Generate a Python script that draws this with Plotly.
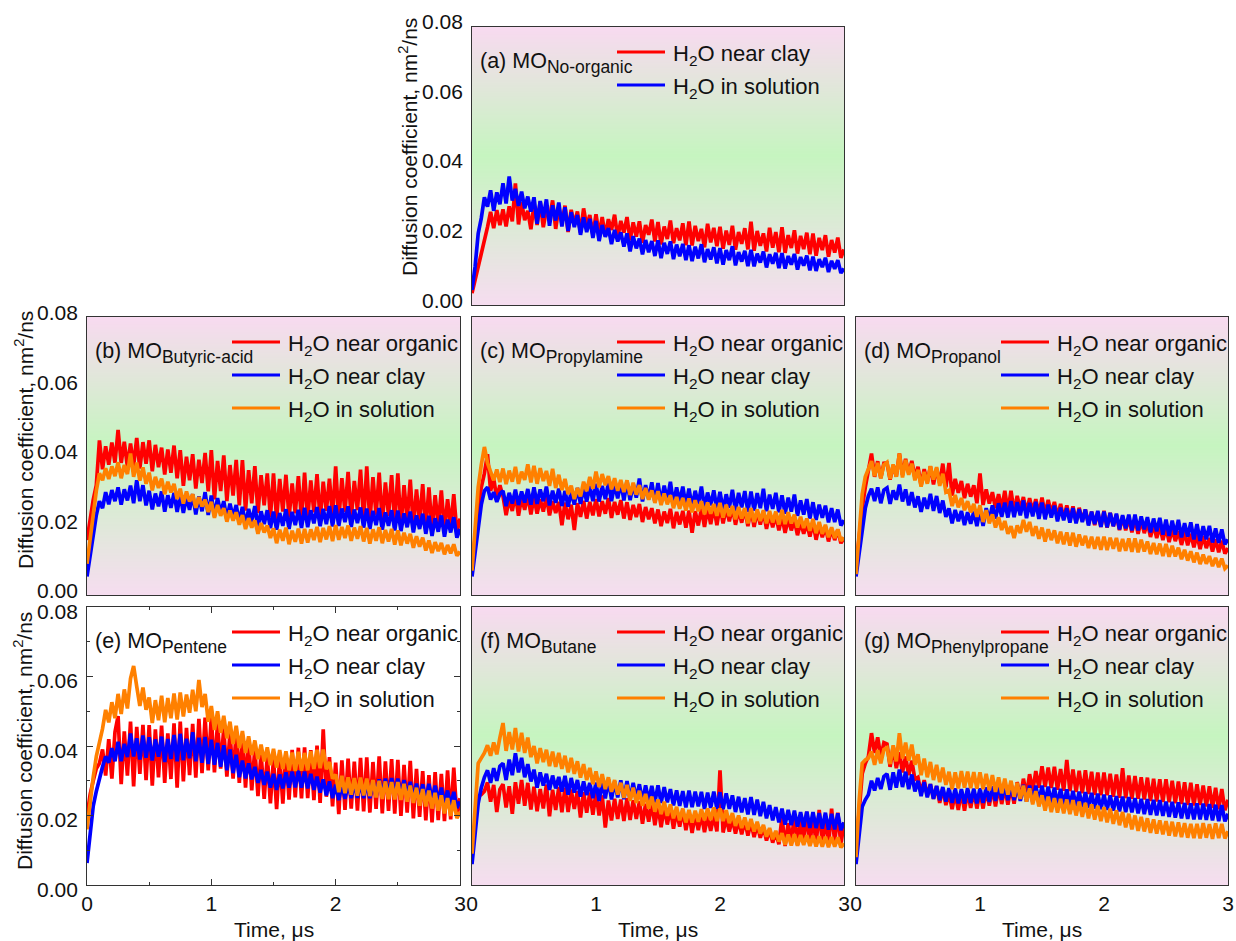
import numpy as np
import plotly.graph_objects as go

# Sampling times (microseconds): 0 ... 3 us in steps of 0.025 us
time_us = np.round(np.arange(121) * 0.025, 3)

# Water diffusion coefficients, in units of 1e-3 nm^2/ns, one value per time sample
a_near_clay = [
    3.4, 7.0, 11.2, 15.1, 18.6, 22.4, 26.8, 22.1, 27.3, 23.0,
    27.5, 22.6, 28.4, 24.1, 35.0, 23.2, 29.6, 24.4, 27.1, 21.8,
    28.9, 23.0, 29.7, 22.4, 27.6, 24.8, 30.1, 21.9, 28.2, 23.5,
    28.6, 21.0, 27.4, 23.2, 26.9, 20.7, 27.8, 22.6, 25.9, 20.2,
    26.1, 20.3, 25.3, 19.8, 24.7, 21.6, 26.0, 19.4, 24.2, 20.8,
    25.3, 18.6, 23.8, 19.7, 24.1, 17.9, 23.0, 20.2, 24.6, 18.3,
    23.9, 17.4, 22.6, 19.0, 24.3, 17.8, 22.1, 18.6, 23.5, 17.2,
    24.0, 17.1, 22.8, 18.4, 21.9, 16.6, 23.4, 18.0, 22.2, 16.9,
    22.5, 16.2, 21.4, 17.3, 22.8, 15.9, 21.0, 17.6, 22.1, 16.0,
    24.0, 15.6, 21.3, 17.0, 20.6, 15.4, 22.2, 16.5, 21.0, 15.2,
    22.4, 15.0, 20.1, 16.4, 21.5, 14.8, 19.9, 16.1, 20.8, 14.6,
    20.6, 14.2, 19.3, 15.8, 20.1, 13.9, 18.7, 15.1, 19.4, 13.6,
    16.0]
a_in_solution = [
    4.3, 11.0, 20.6, 25.0, 31.0, 28.3, 33.0, 27.1, 32.4, 29.0,
    35.0, 29.2, 37.0, 30.1, 33.4, 28.5, 32.6, 27.8, 31.2, 26.9,
    31.0, 23.4, 29.9, 25.1, 30.4, 22.8, 28.7, 24.3, 29.5, 22.6,
    28.1, 21.3, 26.7, 22.4, 25.9, 20.2, 25.2, 21.0, 24.8, 19.3,
    24.2, 18.4, 23.0, 19.6, 22.1, 17.5, 21.6, 18.3, 20.9, 16.8,
    20.6, 15.4, 19.8, 16.3, 19.1, 14.6, 18.7, 15.2, 18.4, 14.1,
    18.6, 13.5, 17.9, 14.7, 18.3, 13.2, 17.4, 14.0, 17.6, 12.9,
    17.2, 12.6, 16.8, 13.4, 17.5, 12.3, 16.1, 13.1, 16.6, 12.0,
    16.4, 11.6, 15.8, 12.9, 16.9, 11.4, 15.2, 12.5, 15.6, 11.2,
    15.9, 11.1, 14.8, 12.2, 15.4, 10.8, 14.6, 11.9, 15.0, 10.6,
    14.9, 10.5, 14.1, 11.6, 14.7, 10.2, 13.8, 11.3, 14.2, 10.0,
    13.9, 9.8, 13.2, 10.9, 13.6, 9.5, 12.7, 10.4, 12.9, 9.2,
    10.5]

b_near_organic = [
    15.8, 22.0, 27.4, 31.6, 44.5, 36.2, 42.8, 37.5, 43.9, 38.1,
    47.5, 38.0, 44.1, 36.9, 43.6, 37.2, 45.2, 36.4, 44.0, 37.8,
    44.5, 35.6, 43.2, 36.8, 42.4, 34.7, 41.9, 35.2, 43.0, 33.6,
    41.7, 31.4, 39.8, 33.0, 40.5, 30.6, 38.9, 32.2, 40.9, 29.8,
    41.7, 27.5, 38.6, 29.9, 40.2, 27.0, 37.4, 28.6, 38.9, 25.8,
    38.8, 24.3, 35.9, 26.4, 37.1, 23.6, 34.5, 25.8, 35.0, 22.4,
    35.0, 21.8, 33.4, 24.0, 34.6, 22.3, 32.1, 23.5, 34.2, 21.6,
    35.2, 22.0, 33.0, 23.8, 34.8, 21.5, 32.6, 24.2, 33.5, 22.4,
    37.0, 21.6, 33.6, 23.9, 35.4, 22.0, 32.8, 24.4, 36.1, 21.3,
    37.0, 21.0, 33.9, 23.1, 35.2, 20.7, 32.4, 22.8, 34.5, 20.4,
    35.0, 19.8, 31.6, 21.6, 33.2, 19.5, 30.4, 21.0, 31.9, 19.0,
    31.0, 18.8, 28.7, 20.2, 30.1, 18.3, 27.6, 19.6, 29.0, 17.9,
    22.0]
b_near_clay = [
    5.3, 11.5, 17.7, 23.0, 27.0, 25.0, 29.6, 26.1, 30.2, 27.0,
    31.0, 26.0, 30.4, 27.2, 31.5, 26.4, 33.0, 27.0, 31.6, 25.8,
    30.0, 24.6, 29.2, 25.5, 29.8, 24.0, 28.7, 25.1, 29.4, 23.9,
    28.8, 23.6, 28.1, 24.5, 29.0, 23.2, 28.4, 24.1, 29.6, 23.0,
    28.6, 22.7, 27.9, 23.6, 27.0, 21.8, 26.3, 22.4, 25.9, 20.9,
    25.4, 20.1, 24.8, 21.0, 25.6, 19.6, 24.1, 20.4, 24.4, 19.2,
    24.0, 18.8, 23.6, 19.9, 24.7, 19.0, 23.9, 20.1, 24.5, 19.3,
    25.1, 19.5, 24.4, 20.6, 25.3, 19.8, 24.8, 20.4, 25.6, 19.7,
    25.8, 19.9, 24.9, 21.0, 25.5, 19.6, 24.6, 20.7, 25.2, 19.4,
    24.9, 19.0, 24.2, 20.1, 25.0, 18.8, 23.8, 19.9, 24.4, 18.6,
    24.3, 18.4, 23.5, 19.5, 24.0, 18.0, 22.9, 19.0, 23.4, 17.6,
    22.8, 17.0, 22.1, 18.2, 22.9, 16.8, 21.7, 18.0, 22.4, 16.5,
    19.0]
b_in_solution = [
    9.0, 16.0, 23.5, 30.0, 35.0, 33.0, 36.5, 33.4, 37.0, 34.2,
    38.2, 33.6, 37.4, 34.8, 40.7, 34.0, 38.1, 32.9, 36.7, 32.0,
    35.2, 30.1, 34.0, 30.8, 33.5, 29.0, 32.6, 29.5, 32.0, 27.6,
    30.6, 26.3, 29.8, 26.9, 29.0, 25.1, 28.2, 25.5, 27.4, 23.9,
    26.8, 22.2, 25.9, 22.8, 25.0, 21.1, 24.3, 21.4, 23.8, 20.2,
    23.0, 19.0, 22.1, 19.4, 21.5, 17.6, 20.7, 18.0, 20.0, 16.4,
    19.2, 14.9, 18.8, 15.6, 19.4, 14.6, 18.5, 15.3, 19.1, 14.8,
    19.0, 15.1, 18.9, 15.8, 19.6, 15.2, 19.3, 16.0, 19.8, 15.5,
    20.1, 15.9, 19.6, 16.4, 20.0, 15.6, 19.4, 16.2, 19.8, 15.4,
    19.3, 14.8, 18.9, 15.6, 19.5, 14.9, 18.7, 15.4, 19.0, 14.5,
    18.6, 14.3, 17.9, 14.8, 17.6, 13.6, 16.9, 13.9, 16.5, 12.8,
    15.7, 12.1, 15.2, 12.6, 15.0, 11.7, 14.4, 12.0, 14.6, 11.3,
    12.5]

c_near_organic = [
    8.0, 17.0, 25.0, 31.0, 35.0, 40.5, 30.0, 33.5, 27.8, 31.6,
    28.4, 23.0, 27.6, 24.2, 29.1, 22.8, 28.0, 24.5, 28.8, 23.2,
    28.1, 23.4, 27.5, 24.0, 28.4, 22.9, 27.0, 23.6, 26.8, 20.1,
    26.6, 21.8, 26.0, 18.7, 26.4, 22.5, 27.1, 22.0, 26.8, 22.9,
    27.6, 22.6, 27.0, 23.4, 27.9, 22.2, 26.8, 23.1, 27.3, 22.0,
    26.7, 21.6, 25.9, 22.4, 26.2, 21.0, 25.3, 21.8, 25.0, 20.6,
    24.6, 19.8, 24.0, 20.7, 24.8, 19.2, 23.9, 20.3, 24.2, 19.4,
    24.3, 17.9, 24.1, 20.0, 24.9, 19.6, 25.0, 20.4, 25.4, 20.1,
    25.6, 20.6, 25.0, 21.2, 25.4, 20.2, 24.6, 20.8, 24.9, 19.8,
    24.7, 19.6, 24.1, 20.3, 24.0, 19.0, 23.2, 19.5, 23.0, 18.6,
    22.6, 17.9, 22.0, 18.6, 21.5, 17.2, 21.0, 17.6, 20.6, 16.8,
    20.8, 15.9, 20.1, 16.6, 19.7, 15.4, 19.0, 15.8, 18.8, 14.9,
    16.5]
c_near_clay = [
    5.3, 12.0, 19.6, 26.0, 30.0, 31.0, 27.5, 29.6, 26.8, 29.1,
    30.0, 25.6, 29.4, 26.3, 30.3, 25.9, 29.8, 26.6, 30.5, 26.0,
    31.0, 26.2, 30.4, 27.0, 31.2, 25.8, 30.0, 26.5, 30.6, 25.6,
    30.0, 25.4, 29.7, 26.0, 30.8, 26.2, 30.9, 26.9, 31.4, 27.0,
    32.0, 26.9, 31.4, 27.6, 32.3, 27.0, 31.8, 27.8, 32.5, 27.2,
    32.8, 27.3, 31.9, 28.0, 33.5, 26.9, 31.6, 27.6, 32.4, 26.8,
    32.2, 26.5, 31.5, 27.4, 32.6, 26.2, 31.0, 26.9, 31.2, 25.8,
    30.6, 25.3, 30.0, 26.1, 31.2, 25.0, 29.5, 25.8, 30.1, 24.8,
    29.7, 24.4, 29.0, 25.1, 30.3, 24.2, 29.4, 25.2, 29.9, 24.0,
    29.8, 24.3, 29.3, 25.0, 30.6, 24.1, 28.9, 24.8, 29.4, 23.8,
    28.7, 23.4, 28.0, 24.0, 28.9, 22.8, 27.2, 23.1, 27.6, 22.0,
    26.7, 21.6, 26.0, 22.2, 25.7, 20.9, 25.0, 21.0, 24.6, 20.0,
    21.5]
c_in_solution = [
    7.0, 20.0, 31.0, 37.5, 42.6, 38.0, 35.2, 33.0, 36.1, 32.5,
    36.4, 31.9, 35.8, 32.6, 36.9, 32.0, 35.5, 33.1, 37.6, 32.4,
    37.2, 32.0, 36.5, 32.8, 35.7, 31.4, 36.3, 30.8, 34.6, 30.2,
    33.4, 29.0, 31.5, 27.6, 30.8, 28.4, 32.6, 29.9, 34.0, 30.6,
    35.5, 31.0, 34.8, 31.6, 34.2, 30.4, 33.6, 30.0, 33.1, 29.6,
    33.0, 28.8, 32.3, 28.9, 31.6, 27.6, 30.8, 27.4, 30.1, 26.5,
    29.9, 25.9, 29.2, 26.1, 28.7, 25.0, 28.2, 24.8, 27.9, 24.3,
    27.8, 23.8, 27.3, 24.1, 27.0, 23.2, 26.6, 23.4, 26.2, 22.8,
    26.5, 22.3, 26.0, 22.7, 25.6, 21.8, 25.3, 22.0, 25.0, 20.6,
    25.0, 21.0, 24.6, 21.3, 24.4, 20.6, 24.2, 20.9, 24.0, 20.3,
    24.5, 20.4, 23.8, 20.6, 23.1, 19.4, 22.5, 19.3, 22.0, 18.5,
    21.9, 17.8, 21.0, 17.6, 20.2, 16.6, 19.5, 16.4, 18.9, 15.6,
    16.5]

d_near_organic = [
    8.0, 17.0, 25.0, 31.0, 36.0, 40.7, 34.0, 38.5, 33.6, 37.9,
    38.0, 33.2, 37.4, 34.1, 40.7, 34.5, 39.2, 35.0, 38.6, 33.8,
    36.9, 31.5, 36.2, 32.4, 37.0, 31.8, 36.4, 32.1, 37.8, 31.0,
    38.0, 28.6, 33.4, 29.4, 32.8, 27.9, 32.0, 28.3, 31.6, 26.4,
    35.0, 25.9, 30.4, 26.3, 29.6, 25.0, 29.0, 24.7, 30.0, 24.1,
    30.0, 24.0, 28.5, 24.6, 28.2, 23.7, 27.9, 24.0, 27.6, 23.4,
    28.0, 23.2, 27.4, 23.5, 26.8, 22.4, 26.2, 22.0, 25.8, 21.6,
    25.5, 21.0, 25.1, 21.3, 24.6, 20.4, 24.0, 20.1, 23.8, 19.6,
    24.2, 19.4, 23.6, 19.8, 23.1, 18.7, 22.6, 18.6, 22.2, 18.0,
    22.0, 17.6, 21.5, 17.8, 20.8, 16.7, 20.3, 16.4, 19.8, 15.8,
    19.5, 15.2, 19.0, 15.5, 18.4, 14.4, 18.1, 14.3, 17.6, 13.7,
    17.4, 13.2, 17.0, 13.5, 16.4, 12.5, 16.0, 12.3, 15.6, 11.9,
    13.5]
d_near_clay = [
    5.3, 12.0, 19.6, 25.0, 28.5, 30.6, 27.0, 31.0, 26.4, 30.2,
    30.8, 26.2, 30.1, 27.4, 31.8, 26.9, 30.4, 25.8, 29.6, 25.2,
    28.4, 23.9, 28.0, 24.8, 29.1, 24.2, 28.5, 23.6, 27.2, 22.5,
    24.9, 20.6, 24.5, 21.2, 24.2, 20.1, 23.8, 20.5, 24.0, 19.8,
    24.6, 19.9, 25.0, 21.6, 25.8, 22.0, 26.4, 22.5, 26.6, 22.3,
    27.0, 22.4, 26.7, 22.9, 27.2, 22.1, 26.5, 22.6, 26.8, 21.9,
    26.6, 21.8, 26.0, 22.3, 25.7, 21.2, 25.1, 21.5, 25.0, 20.8,
    25.0, 20.6, 24.7, 21.0, 24.6, 20.0, 24.0, 20.4, 24.2, 19.6,
    24.0, 19.5, 23.6, 19.8, 23.4, 18.9, 23.0, 19.2, 23.1, 18.6,
    23.1, 18.6, 22.6, 18.9, 22.4, 18.0, 22.0, 18.3, 22.2, 17.4,
    21.7, 17.0, 21.4, 17.4, 21.6, 16.6, 20.7, 16.8, 20.9, 16.0,
    20.4, 15.6, 19.8, 16.0, 19.9, 15.1, 19.2, 15.0, 18.9, 14.6,
    16.0]
d_in_solution = [
    6.0, 18.0, 29.0, 34.0, 36.0, 38.5, 34.2, 38.0, 33.6, 37.5,
    38.2, 33.4, 37.6, 34.0, 40.7, 33.8, 38.9, 34.6, 37.8, 33.0,
    36.0, 31.2, 35.4, 32.0, 37.1, 33.2, 36.8, 31.4, 34.9, 29.6,
    30.1, 25.6, 28.8, 25.2, 27.9, 24.4, 27.0, 23.8, 26.2, 22.5,
    25.8, 21.0, 24.4, 20.6, 23.2, 19.4, 22.4, 18.7, 21.3, 17.6,
    19.8, 16.4, 20.0, 17.8, 21.6, 18.2, 21.0, 17.0, 19.8, 16.2,
    19.4, 15.4, 18.9, 15.8, 18.6, 14.9, 18.2, 14.6, 18.0, 14.2,
    17.9, 13.9, 17.4, 14.3, 17.0, 13.5, 16.8, 13.3, 16.7, 13.0,
    16.8, 12.9, 16.5, 13.3, 16.4, 12.6, 16.1, 12.7, 16.3, 12.4,
    16.3, 12.3, 15.9, 12.5, 15.4, 11.8, 15.0, 11.7, 14.8, 11.2,
    14.7, 11.0, 14.2, 11.1, 13.6, 10.3, 13.0, 9.9, 12.6, 9.4,
    12.2, 8.9, 11.6, 9.0, 11.2, 8.3, 10.7, 8.0, 10.5, 7.6,
    8.5]

e_near_organic = [
    19.8, 26.0, 30.0, 33.5, 35.0, 39.0, 31.5, 42.0, 30.6, 44.0,
    48.6, 29.0, 44.2, 31.5, 47.0, 28.4, 45.5, 32.0, 46.1, 30.2,
    46.0, 28.6, 44.8, 31.0, 45.9, 29.4, 43.6, 30.5, 46.5, 28.0,
    47.0, 29.8, 45.2, 31.6, 46.4, 30.9, 47.8, 32.2, 48.2, 33.0,
    48.6, 32.4, 46.7, 33.5, 45.1, 31.2, 44.0, 30.6, 44.3, 29.4,
    43.2, 28.0, 41.6, 27.2, 39.4, 25.6, 38.0, 24.8, 37.2, 23.5,
    36.3, 21.8, 36.9, 23.4, 38.0, 24.6, 38.9, 25.2, 39.5, 24.9,
    39.6, 25.0, 38.8, 24.4, 40.1, 23.6, 44.8, 25.4, 36.8, 22.6,
    35.2, 20.4, 35.9, 21.6, 36.4, 22.0, 35.5, 21.4, 36.6, 21.2,
    36.7, 20.8, 35.4, 21.9, 37.0, 20.6, 35.6, 21.3, 36.2, 20.5,
    36.0, 19.9, 34.6, 20.8, 35.7, 19.2, 33.4, 19.6, 32.8, 18.6,
    31.6, 18.0, 32.5, 18.7, 32.0, 18.4, 33.0, 18.9, 33.8, 19.6,
    25.0]
e_near_clay = [
    6.3, 15.0, 22.7, 27.0, 31.0, 34.0, 37.0, 35.2, 39.4, 35.6,
    41.2, 35.6, 40.6, 36.8, 43.6, 37.0, 42.2, 36.1, 43.0, 36.6,
    42.5, 35.8, 41.9, 36.9, 42.7, 35.4, 42.0, 36.3, 43.2, 35.6,
    43.5, 35.9, 42.1, 36.5, 44.0, 35.6, 42.4, 35.2, 42.6, 34.8,
    41.8, 34.6, 40.9, 34.0, 40.2, 33.0, 39.0, 32.2, 37.5, 31.0,
    35.8, 30.7, 35.0, 30.4, 34.0, 29.4, 33.1, 28.8, 32.6, 28.0,
    32.0, 27.4, 31.8, 27.8, 32.4, 28.0, 32.6, 28.1, 32.9, 28.0,
    32.6, 27.8, 32.0, 27.4, 31.2, 26.6, 30.4, 25.8, 29.8, 25.0,
    28.9, 24.4, 29.0, 24.8, 29.4, 25.0, 29.6, 25.1, 29.7, 25.0,
    29.6, 25.0, 29.9, 25.6, 30.4, 25.9, 30.6, 26.0, 30.8, 25.8,
    30.6, 25.6, 30.2, 25.3, 29.7, 24.8, 29.2, 24.6, 29.0, 24.3,
    29.1, 24.4, 28.6, 24.0, 28.0, 23.2, 27.2, 22.6, 26.8, 22.2,
    24.0]
e_in_solution = [
    16.0, 24.0, 31.0, 37.0, 41.0, 45.0, 50.4, 46.8, 52.6, 48.0,
    55.0, 49.2, 56.3, 50.8, 59.4, 63.0, 57.1, 51.5, 56.8, 50.4,
    54.0, 46.6, 53.2, 47.4, 54.5, 46.8, 53.8, 48.0, 55.1, 47.6,
    55.4, 48.5, 54.8, 49.6, 56.2, 50.0, 59.0, 51.2, 55.0, 47.0,
    51.5, 44.6, 50.0, 43.8, 48.7, 42.2, 47.0, 40.6, 45.8, 39.4,
    44.3, 38.0, 42.8, 37.4, 41.6, 36.2, 40.4, 35.6, 39.6, 34.5,
    39.2, 33.8, 38.8, 33.4, 38.5, 33.0, 38.1, 32.8, 38.3, 32.9,
    38.0, 33.0, 38.5, 33.4, 38.9, 33.6, 39.0, 33.3, 35.4, 30.6,
    31.8, 26.7, 31.4, 26.4, 31.0, 26.0, 30.8, 25.7, 30.9, 25.8,
    30.6, 25.6, 30.2, 25.2, 30.0, 24.8, 29.8, 24.7, 29.6, 24.6,
    29.6, 24.5, 29.1, 24.0, 28.6, 23.6, 28.0, 22.8, 27.6, 22.6,
    27.2, 22.0, 26.5, 21.4, 25.8, 20.6, 25.0, 19.9, 24.4, 19.2,
    21.0]

f_near_organic = [
    10.0, 18.0, 25.5, 26.0, 27.0, 29.5, 24.0, 28.8, 21.0, 27.5,
    29.0, 22.3, 28.4, 20.5, 29.6, 23.4, 30.2, 22.8, 29.4, 21.7,
    28.3, 21.2, 27.6, 22.0, 28.9, 19.8, 27.4, 21.6, 28.2, 20.9,
    28.0, 21.0, 27.5, 21.9, 27.0, 19.4, 26.7, 20.8, 26.6, 20.2,
    26.6, 20.0, 25.8, 16.5, 24.3, 18.6, 24.8, 19.0, 24.6, 18.4,
    25.0, 18.7, 24.4, 19.0, 24.1, 17.6, 23.4, 18.2, 23.6, 17.2,
    22.8, 16.6, 22.3, 17.4, 22.0, 16.2, 21.2, 16.8, 21.6, 15.8,
    20.6, 15.0, 20.2, 15.8, 20.4, 15.2, 19.8, 15.6, 20.0, 15.4,
    33.0, 15.1, 19.4, 15.4, 19.1, 14.8, 18.7, 14.6, 18.5, 14.2,
    18.0, 13.8, 17.4, 13.6, 16.6, 12.8, 15.9, 12.2, 15.2, 11.7,
    19.5, 11.2, 17.8, 12.0, 20.4, 11.5, 18.6, 12.2, 21.0, 11.6,
    20.2, 11.8, 21.6, 12.1, 19.4, 11.4, 22.0, 12.3, 20.8, 11.7,
    18.0]
f_near_clay = [
    6.0, 15.0, 23.5, 28.0, 31.0, 33.0, 29.4, 33.6, 30.0, 34.2,
    35.0, 30.2, 36.1, 31.6, 37.9, 32.4, 36.6, 31.0, 34.8, 29.8,
    33.2, 28.0, 32.4, 28.6, 32.0, 27.4, 31.5, 27.8, 31.1, 26.9,
    31.4, 26.0, 30.8, 26.6, 30.2, 25.4, 29.8, 25.9, 29.4, 25.0,
    29.5, 24.2, 29.7, 24.9, 30.4, 24.6, 29.8, 25.2, 30.1, 24.7,
    29.9, 24.6, 29.4, 24.8, 29.0, 24.0, 28.7, 24.2, 28.5, 23.8,
    28.7, 23.6, 28.2, 23.8, 27.6, 22.9, 27.2, 22.8, 27.0, 22.3,
    27.2, 22.4, 26.9, 22.6, 26.8, 21.9, 26.6, 22.2, 26.9, 22.0,
    26.7, 21.8, 26.4, 21.9, 25.8, 21.0, 25.4, 20.9, 25.0, 20.3,
    25.3, 20.2, 24.6, 19.8, 23.9, 19.2, 23.0, 18.6, 22.4, 18.0,
    22.0, 17.4, 21.6, 17.2, 21.4, 16.8, 21.0, 16.7, 21.1, 16.4,
    21.0, 16.4, 20.7, 16.2, 20.8, 15.9, 20.5, 16.0, 20.6, 15.8,
    18.0]
f_in_solution = [
    9.0, 24.0, 35.0, 36.5, 38.0, 40.2, 37.2, 41.0, 37.6, 42.4,
    46.6, 38.6, 44.0, 39.0, 45.2, 38.4, 43.8, 38.0, 42.4, 36.8,
    40.0, 35.0, 39.4, 35.4, 38.9, 34.2, 38.4, 34.0, 38.0, 33.4,
    37.2, 32.4, 36.6, 32.0, 35.6, 30.9, 34.8, 30.2, 33.7, 29.0,
    32.7, 28.2, 31.9, 27.6, 31.0, 26.8, 30.2, 26.0, 29.4, 25.1,
    28.8, 24.2, 28.0, 23.6, 27.1, 22.8, 26.2, 22.0, 25.4, 21.1,
    24.6, 20.4, 24.0, 19.9, 23.2, 19.2, 22.5, 18.6, 22.0, 18.0,
    21.6, 18.0, 21.4, 18.2, 21.8, 18.6, 22.0, 18.7, 22.3, 18.4,
    22.0, 18.4, 21.5, 17.8, 20.7, 17.0, 20.0, 16.4, 19.4, 15.9,
    19.0, 15.4, 18.2, 14.8, 17.3, 13.9, 16.4, 13.2, 15.6, 12.5,
    14.9, 11.6, 14.5, 11.4, 14.6, 11.3, 14.4, 11.5, 14.3, 11.2,
    14.2, 11.1, 14.0, 11.0, 13.9, 10.9, 13.8, 11.0, 13.7, 10.8,
    12.0]

g_near_organic = [
    10.0, 22.0, 32.0, 35.0, 37.0, 43.7, 38.0, 42.5, 36.8, 41.0,
    40.6, 34.0, 39.8, 33.6, 38.2, 32.4, 37.0, 31.6, 35.8, 30.4,
    31.0, 26.4, 30.2, 25.6, 29.0, 24.8, 28.4, 23.6, 27.8, 23.0,
    26.6, 21.8, 26.4, 21.6, 27.0, 21.4, 26.8, 22.2, 27.2, 22.0,
    27.0, 22.0, 27.5, 22.8, 27.9, 22.6, 28.3, 23.3, 28.0, 23.1,
    28.4, 23.4, 29.6, 24.6, 30.6, 25.8, 31.9, 27.0, 32.8, 28.0,
    34.2, 28.2, 33.8, 27.9, 34.0, 27.4, 33.4, 27.1, 36.0, 27.0,
    33.2, 26.8, 32.9, 26.4, 33.0, 26.2, 32.6, 25.9, 32.4, 25.8,
    32.4, 25.8, 32.0, 25.4, 31.8, 25.1, 33.6, 25.0, 31.5, 24.8,
    31.4, 24.8, 31.0, 24.6, 30.9, 24.2, 30.6, 24.0, 30.4, 23.9,
    30.4, 23.8, 30.0, 23.5, 29.8, 23.3, 29.6, 23.0, 29.4, 22.9,
    29.0, 23.0, 28.6, 22.6, 28.4, 22.2, 28.0, 21.8, 27.6, 21.5,
    24.5]
g_near_clay = [
    6.0, 14.0, 22.5, 24.5, 26.0, 30.0, 27.2, 30.8, 27.6, 31.2,
    32.0, 27.4, 32.4, 28.0, 33.2, 28.2, 32.6, 27.6, 31.8, 26.9,
    30.0, 25.6, 29.6, 25.2, 29.0, 24.8, 28.5, 24.4, 28.2, 24.0,
    27.9, 23.6, 27.8, 23.5, 27.6, 23.4, 27.9, 23.6, 27.7, 23.5,
    27.8, 23.6, 28.1, 23.9, 28.4, 24.2, 28.9, 24.5, 29.0, 24.4,
    29.2, 24.4, 28.9, 24.2, 28.8, 24.0, 28.6, 23.9, 28.6, 23.8,
    28.6, 23.8, 28.3, 23.6, 28.0, 23.2, 27.7, 23.0, 27.5, 22.8,
    27.1, 22.6, 26.9, 22.4, 26.7, 22.2, 26.5, 22.0, 26.3, 21.8,
    26.0, 21.6, 25.8, 21.4, 25.6, 21.2, 25.4, 21.0, 25.3, 20.9,
    25.0, 20.6, 24.8, 20.4, 24.7, 20.2, 24.5, 20.0, 24.4, 19.9,
    24.0, 19.6, 23.9, 19.4, 23.8, 19.2, 23.6, 19.0, 23.5, 18.9,
    23.5, 18.9, 23.4, 18.7, 23.3, 18.6, 23.1, 18.4, 23.0, 18.3,
    20.5]
g_in_solution = [
    8.0, 24.0, 35.0, 36.0, 36.5, 38.4, 34.6, 38.8, 35.0, 39.0,
    39.5, 34.8, 40.2, 35.6, 43.7, 36.4, 41.0, 35.8, 40.4, 34.6,
    37.6, 31.6, 36.4, 31.0, 35.4, 30.2, 34.6, 29.6, 33.8, 28.8,
    32.6, 27.6, 32.4, 27.8, 32.8, 28.0, 32.6, 27.9, 32.5, 27.7,
    32.4, 27.6, 32.0, 27.2, 31.6, 26.8, 31.0, 26.4, 30.6, 26.0,
    30.0, 25.4, 29.4, 24.8, 28.6, 24.0, 27.8, 23.2, 27.0, 22.6,
    25.8, 21.4, 25.4, 21.0, 25.0, 20.8, 24.8, 20.6, 24.6, 20.4,
    24.4, 20.0, 24.0, 19.6, 23.6, 19.2, 23.2, 18.8, 22.8, 18.4,
    22.4, 18.0, 22.0, 17.6, 21.5, 17.2, 21.0, 16.6, 20.5, 16.0,
    20.0, 15.6, 19.6, 15.4, 19.2, 15.0, 18.9, 14.8, 18.6, 14.6,
    18.4, 14.2, 18.2, 14.0, 18.0, 13.8, 17.8, 13.6, 17.6, 13.5,
    17.6, 13.4, 17.8, 13.6, 17.5, 13.3, 17.7, 13.5, 17.6, 13.4,
    15.5]

# Axis ticks
x_tickvals = [0, 1, 2, 3]
y_tickvals = [0.0, 0.02, 0.04, 0.06, 0.08]

RED, BLUE, ORANGE = "#ff0000", "#0000ff", "#ff8000"
NEAR_ORG = "H<sub>2</sub>O near organic"
NEAR_CLAY = "H<sub>2</sub>O near clay"
IN_SOL = "H<sub>2</sub>O in solution"

W, H = 1236, 941
FONT = "Liberation Sans, Arial, sans-serif"

# Panel boxes in pixels: (left, right, top, bottom); ylab_shift nudges the
# y tick labels vertically (px) on panels that carry them
panels = [
    dict(tag="(a)", sub="No-organic", box=(472, 844, 27, 305), grad=True, ylab_shift=5, xlab=False,
         ytitle=(408, 147),
         series=[(NEAR_CLAY, a_near_clay, RED), (IN_SOL, a_in_solution, BLUE)]),
    dict(tag="(b)", sub="Butyric-acid", box=(87, 460, 317, 595), grad=True, ylab_shift=4.5, xlab=False,
         ytitle=(24, 440),
         series=[(NEAR_ORG, b_near_organic, RED), (NEAR_CLAY, b_near_clay, BLUE), (IN_SOL, b_in_solution, ORANGE)]),
    dict(tag="(c)", sub="Propylamine", box=(472, 844, 317, 595), grad=True, ylab_shift=None, xlab=False,
         series=[(NEAR_ORG, c_near_organic, RED), (NEAR_CLAY, c_near_clay, BLUE), (IN_SOL, c_in_solution, ORANGE)]),
    dict(tag="(d)", sub="Propanol", box=(856, 1228, 317, 595), grad=True, ylab_shift=None, xlab=False,
         series=[(NEAR_ORG, d_near_organic, RED), (NEAR_CLAY, d_near_clay, BLUE), (IN_SOL, d_in_solution, ORANGE)]),
    dict(tag="(e)", sub="Pentene", box=(87, 460, 607, 885), grad=False, ylab_shift=-4, xlab=True,
         ytitle=(23, 741),
         series=[(NEAR_ORG, e_near_organic, RED), (NEAR_CLAY, e_near_clay, BLUE), (IN_SOL, e_in_solution, ORANGE)]),
    dict(tag="(f)", sub="Butane", box=(472, 844, 607, 885), grad=True, ylab_shift=None, xlab=True,
         series=[(NEAR_ORG, f_near_organic, RED), (NEAR_CLAY, f_near_clay, BLUE), (IN_SOL, f_in_solution, ORANGE)]),
    dict(tag="(g)", sub="Phenylpropane", box=(856, 1228, 607, 885), grad=True, ylab_shift=None, xlab=True,
         series=[(NEAR_ORG, g_near_organic, RED), (NEAR_CLAY, g_near_clay, BLUE), (IN_SOL, g_in_solution, ORANGE)]),
]

# Vertical pink-green-pink background wash
bg_levels = [0.0, 0.01, 0.02, 0.03, 0.04, 0.05, 0.06, 0.07, 0.08]
BG_SCALE = [[0.0, "#f6ddf0"], [0.54, "#c6f5c0"], [1.0, "#f8daf0"]]


def px(x):
    return x / W


def py(y):
    return 1 - y / H


fig = go.Figure()
shapes, annotations = [], []
layout = {}

for k, p in enumerate(panels, start=1):
    xa = "x" if k == 1 else f"x{k}"
    ya = "y" if k == 1 else f"y{k}"
    L, R, T, B = p["box"]

    if p["grad"]:
        fig.add_trace(go.Heatmap(
            x=[0, 3], y=bg_levels, z=[[v, v] for v in bg_levels],
            zmin=0, zmax=0.08, colorscale=BG_SCALE, zsmooth="best",
            showscale=False, hoverinfo="skip", xaxis=xa, yaxis=ya))

    for name, vals, color in p["series"]:
        assert len(vals) == len(time_us), (p["tag"], name, len(vals))
        fig.add_trace(go.Scatter(
            x=time_us, y=np.asarray(vals) * 1e-3, mode="lines",
            line=dict(color=color, width=3.7), showlegend=False,
            xaxis=xa, yaxis=ya))

    boxed = not p["grad"]
    xaxis = dict(
        domain=[px(L), px(R)], range=[0, 3], anchor=ya,
        showline=True, linecolor="#333333", linewidth=1, mirror="ticks" if boxed else True,
        showgrid=False, zeroline=False, automargin=False,
        tickvals=x_tickvals, showticklabels=p["xlab"],
        tickfont=dict(family=FONT, size=21, color="#111111"),
        ticks="inside" if boxed else "", ticklen=6, tickcolor="#333333",
    )
    yaxis = dict(
        domain=[py(B), py(T)], range=[0, 0.08], anchor=xa,
        showline=True, linecolor="#333333", linewidth=1, mirror="ticks" if boxed else True,
        showgrid=False, zeroline=False, automargin=False,
        tickvals=y_tickvals, showticklabels=False,
        ticks="inside" if boxed else "", ticklen=6, tickcolor="#333333",
    )
    if boxed:
        xaxis["minor"] = dict(ticks="inside", dtick=0.5, tick0=0, ticklen=3, tickcolor="#333333", showgrid=False)
        yaxis["minor"] = dict(ticks="inside", dtick=0.01, tick0=0, ticklen=3, tickcolor="#333333", showgrid=False)
    layout["xaxis" if k == 1 else f"xaxis{k}"] = xaxis
    layout["yaxis" if k == 1 else f"yaxis{k}"] = yaxis

    # y tick labels, placed on the axis scale with a small vertical nudge
    if p["ylab_shift"] is not None:
        for v in y_tickvals:
            annotations.append(dict(
                xref="paper", yref=ya, x=px(L - 7), y=v, yshift=p["ylab_shift"],
                xanchor="right", yanchor="middle", showarrow=False,
                text=f"{v:.2f}", font=dict(family=FONT, size=21, color="#111111")))

    # Panel tag with subscripted system name
    annotations.append(dict(
        xref="paper", yref="paper", x=px(L + 6), y=py(T + 36),
        xanchor="left", yanchor="middle", showarrow=False,
        text=f"{p['tag']} MO<sub><span style='font-size:17.5px'>{p['sub']}</span></sub>",
        font=dict(family=FONT, size=21.5, color="#111111")))

    # In-panel legend
    for i, (name, vals, color) in enumerate(p["series"]):
        yrow = T + 25 + 33 * i
        shapes.append(dict(type="line", xref="paper", yref="paper",
                           x0=px(L + 145), x1=px(L + 193), y0=py(yrow), y1=py(yrow),
                           line=dict(color=color, width=3)))
        annotations.append(dict(
            xref="paper", yref="paper", x=px(L + 199), y=py(yrow + 3),
            xanchor="left", yanchor="middle", showarrow=False, text=name,
            font=dict(family=FONT, size=22, color="#111111")))

    if "ytitle" in p:
        tx, ty = p["ytitle"]
        annotations.append(dict(
            xref="paper", yref="paper", x=px(tx), y=py(ty), textangle=-90,
            xanchor="center", yanchor="middle", showarrow=False,
            text="Diffusion coefficient, nm<sup>2</sup>/ns",
            font=dict(family=FONT, size=21, color="#111111")))
    if p["xlab"]:
        annotations.append(dict(
            xref="paper", yref="paper", x=px((L + R) / 2), y=py(929),
            xanchor="center", yanchor="middle", showarrow=False,
            text="Time, μs", font=dict(family=FONT, size=21, color="#111111")))

fig.update_layout(
    width=W, height=H, autosize=False,
    margin=dict(l=0, r=0, t=0, b=0, pad=0, autoexpand=False),
    paper_bgcolor="white", plot_bgcolor="white",
    showlegend=False, shapes=shapes, annotations=annotations,
    font=dict(family=FONT, size=21, color="#111111"),
    **layout)

fig.write_html("out.html", post_script="document.body.style.margin='0';")
